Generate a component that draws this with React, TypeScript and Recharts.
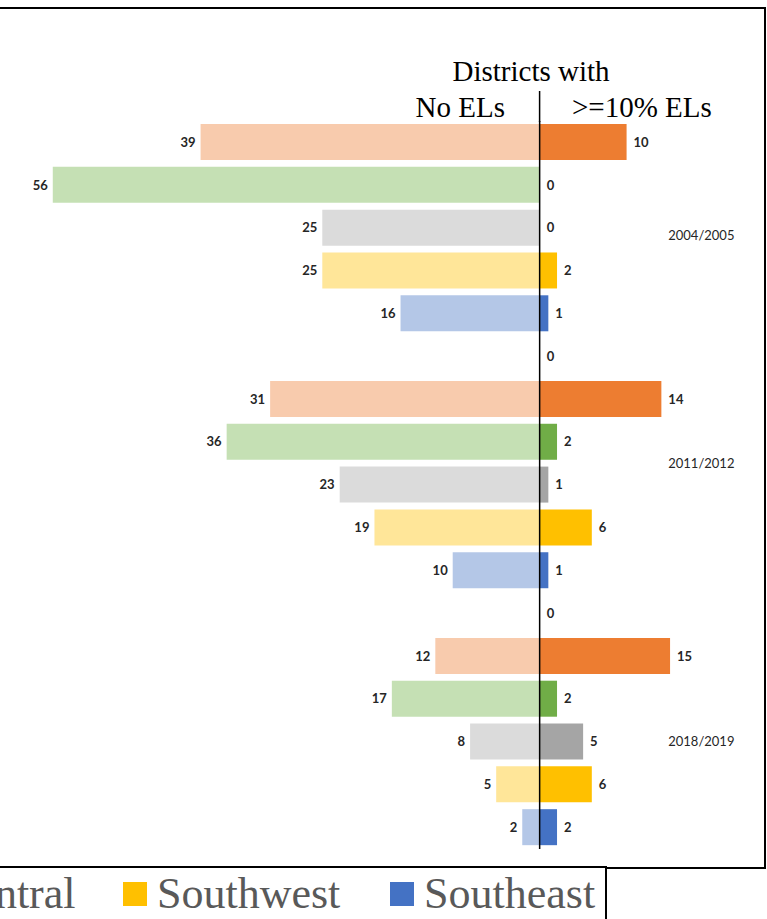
import React from 'react';
import { BarChart, Bar, XAxis, YAxis, Cell, LabelList, ReferenceLine, ReferenceDot } from 'recharts';

const years = ['2004/2005', '2011/2012', '2018/2019'];
const regions = ['Northeast', 'Northwest', 'Central', 'Southwest', 'Southeast'];
// districts with no ELs, per year, per region
const noElCounts = [
  [39, 56, 25, 25, 16],
  [31, 36, 23, 19, 10],
  [12, 17, 8, 5, 2],
];
// districts with >=10% ELs
const highElCounts = [
  [10, 0, 0, 2, 1],
  [14, 2, 1, 6, 1],
  [15, 2, 5, 6, 2],
];
const lightColors = ['#F8CBAD', '#C5E0B4', '#DBDBDB', '#FFE699', '#B4C7E7'];
const darkColors = ['#ED7D31', '#70AD47', '#A5A5A5', '#FFC000', '#4472C4'];
const legendNames = ['Central', 'Southwest', 'Southeast'];
const legendColors = ['#A5A5A5', '#FFC000', '#4472C4'];

type Row = { row: string; region: number; noEl: number | null; left: number; right: number };

const rows: Row[] = [];
years.forEach((_, gi) => {
  regions.forEach((_, ri) => {
    rows.push({
      row: `${gi}-${ri}`,
      region: ri,
      noEl: noElCounts[gi][ri],
      left: -noElCounts[gi][ri],
      right: highElCounts[gi][ri],
    });
  });
  if (gi < years.length - 1) {
    rows.push({ row: `gap-${gi}`, region: -1, noEl: null, left: 0, right: 0 });
  }
});

// where each year label sits (row key, vertical nudge)
const yearLabelRows = ['0-2', '1-2', '2-2'];
const yearLabelNudge = [7, -22, -1];

const labelFont = { fontFamily: 'Lato, sans-serif', fontSize: 13, fontWeight: 700, fill: '#262626' };

const sideLabel = (side: 'left' | 'right') => (props: any) => {
  const vb = props.viewBox && props.viewBox.width !== undefined ? props.viewBox : props;
  const value = props.value;
  if (value === null || value === undefined || value === '') return null;
  const x1 = Number(vb.x);
  const x2 = Number(vb.x) + Number(vb.width);
  const tx = side === 'left' ? Math.min(x1, x2) - 5 : Math.max(x1, x2) + 7;
  return (
    <text
      x={tx}
      y={Number(vb.y) + Number(vb.height) / 2}
      dy="0.36em"
      textAnchor={side === 'left' ? 'end' : 'start'}
      {...labelFont}
    >
      {value}
    </text>
  );
};

const serif = "'Liberation Serif', 'Times New Roman', serif";

export default function App() {
  return (
    <div style={{ position: 'relative', width: 767, height: 919, overflow: 'hidden', background: '#fff' }}>
      <style>{'body{margin:0}'}</style>
      {/* outer chart frame */}
      <div
        style={{
          position: 'absolute',
          left: -4,
          top: 7,
          width: 770,
          height: 862,
          border: '2px solid #000',
          boxSizing: 'border-box',
        }}
      />
      <svg width={767} height={130} style={{ position: 'absolute', left: 0, top: 0 }}>
        <text x={531} y={81} textAnchor="middle" fontFamily={serif} fontSize={29} fill="#000">
          Districts with
        </text>
        <text x={505} y={117} textAnchor="end" fontFamily={serif} fontSize={29} fill="#000">
          No ELs
        </text>
        <text x={572} y={117} textAnchor="start" fontFamily={serif} fontSize={29} fill="#000">
          {'>=10% ELs'}
        </text>
        <line x1={539.6} x2={539.6} y1={91} y2={122} stroke="#000" strokeWidth={1.5} />
      </svg>
      <div style={{ position: 'absolute', left: 0, top: 0 }}>
        <BarChart
          width={767}
          height={919}
          data={rows}
          layout="vertical"
          stackOffset="sign"
          barSize={36}
          margin={{ top: 121, right: 10, bottom: 70, left: 18 }}
        >
          <XAxis type="number" domain={[-60, 25]} hide allowDataOverflow />
          <YAxis type="category" dataKey="row" hide />
          <Bar dataKey="left" stackId="a" isAnimationActive={false}>
            {rows.map((r) => (
              <Cell key={`l-${r.row}`} fill={r.region >= 0 ? lightColors[r.region] : 'transparent'} />
            ))}
            <LabelList dataKey="noEl" content={sideLabel('left')} />
          </Bar>
          <Bar dataKey="right" stackId="a" minPointSize={0.01} isAnimationActive={false}>
            {rows.map((r) => (
              <Cell key={`r-${r.row}`} fill={r.region >= 0 ? darkColors[r.region] : 'transparent'} />
            ))}
            <LabelList dataKey="right" content={sideLabel('right')} />
          </Bar>
          <ReferenceLine x={0} stroke="#000" strokeWidth={1.5} />
          {years.map((y, i) => (
            <ReferenceDot
              key={y}
              x={18.6}
              y={yearLabelRows[i]}
              r={0}
              isFront
              shape={(p: any) => (
                <text
                  x={p.cx}
                  y={p.cy + yearLabelNudge[i]}
                  dy="0.36em"
                  textAnchor="middle"
                  fontFamily="Lato, sans-serif"
                  fontSize={13}
                  fill="#262626"
                >
                  {y}
                </text>
              )}
            />
          ))}
        </BarChart>
      </div>
      {/* legend box, cut at the left like the source */}
      <div
        style={{
          position: 'absolute',
          left: -4,
          top: 866,
          width: 611,
          height: 70,
          border: '2px solid #000',
          boxSizing: 'border-box',
          background: '#fff',
        }}
      />
      {legendNames.map((name, i) => {
        const squareX = [-88, 123, 390][i];
        return (
          <div key={name} style={{ position: 'absolute', left: squareX, top: 868, height: 52, display: 'flex', alignItems: 'center' }}>
            <div style={{ width: 24, height: 24, background: legendColors[i] }} />
            <span
              style={{
                marginLeft: 10,
                fontFamily: serif,
                fontSize: 44,
                color: '#595959',
                lineHeight: '52px',
                whiteSpace: 'nowrap',
              }}
            >
              {name}
            </span>
          </div>
        );
      })}
    </div>
  );
}
